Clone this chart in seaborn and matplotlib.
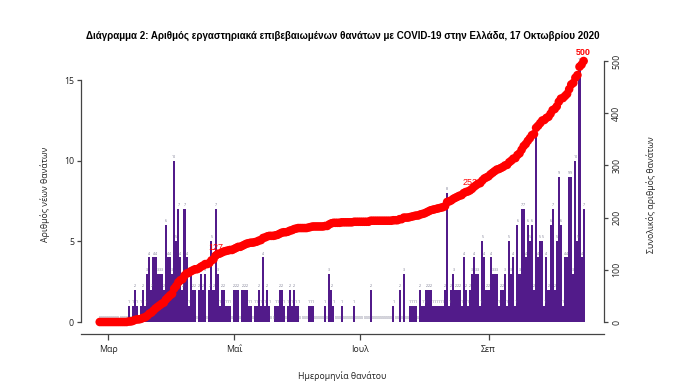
import numpy as np
import pandas as pd
import matplotlib
matplotlib.use("Agg")
import matplotlib.pyplot as plt
import matplotlib.dates as mdates
import seaborn as sns

# ---------------- data ----------------
start_date = "2020-02-26"
feb = [0, 0, 0, 0]
mar = [0, 0, 0, 0, 0, 0, 0, 0, 0, 0,
       1, 0, 1, 2, 1, 0, 1, 2, 1, 3, 4, 2, 4, 4, 3, 3, 3, 2, 6, 4, 4]
apr = [3, 10, 5, 7, 4, 2, 7, 4, 1, 3, 2, 2, 0, 2, 3, 2, 3, 0, 2, 5, 2, 7,
       3, 1, 2, 2, 1, 1, 1, 0]
may = [2, 2, 2, 0, 2, 2, 2, 1, 1, 0, 1, 1, 2, 1, 4, 1, 2, 1, 0, 0, 1, 1,
       2, 2, 1, 0, 1, 2, 1, 2, 1]
jun = [1, 0, 0, 0, 0, 1, 1, 1, 0, 0, 0, 0, 0, 1, 0, 3, 2, 1, 0, 0, 0, 1,
       0, 0, 0, 0, 0, 1, 0, 0]
jul = [0, 0, 0, 0, 0, 2, 0, 0, 0, 0, 0, 0, 0, 0, 0, 0, 1, 0, 0, 2, 0, 3,
       0, 0, 1, 1, 1, 1, 0, 2, 1]
aug = [1, 2, 2, 2, 1, 1, 1, 1, 1, 1, 2, 8, 1, 2, 3, 2, 2, 2, 1, 4, 2, 1,
       2, 3, 4, 3, 3, 1, 5, 4, 2]
sep = [2, 4, 3, 3, 3, 1, 2, 2, 3, 1, 5, 3,
       4, 1, 6, 3, 7, 7, 4, 6, 5, 6, 2, 12, 4, 5, 5, 1, 4, 2]
octo = [6, 7, 2, 5, 9, 6, 1, 4, 4, 9, 9, 3, 10, 5, 16, 4, 7]

tick_dates = ["2020-03-01", "2020-05-01", "2020-07-01", "2020-09-01"]
tick_labels = ["Μαρ", "Μαΐ", "Ιουλ", "Σεπ"]
annot_dates = ["2020-04-22", "2020-08-23", "2020-10-17"]

title = ("Διάγραμμα 2: Αριθμός εργαστηριακά επιβεβαιωμένων θανάτων με COVID-19 "
         "στην Ελλάδα, 17 Οκτωβρίου 2020")
xlabel = "Ημερομηνία θανάτου"
ylabel_left = "Αριθμός νέων θανάτων"
ylabel_right = "Συνολικός αριθμός θανάτων"

daily = feb + mar + apr + may + jun + jul + aug + sep + octo
dates = pd.date_range(start_date, periods=len(daily), freq="D")
cum = np.cumsum(daily)
df = pd.DataFrame({"x": mdates.date2num(dates), "deaths": daily, "cum": cum})

# ---------------- style ----------------
sns.set_theme(style="white")
plt.rcParams["font.family"] = ["Open Sans", "DejaVu Sans"]

W, H = 692, 389
fig = plt.figure(figsize=(W / 100, H / 100), dpi=100)
L, R, T, B = 81, 604, 55, 334
ax = fig.add_axes([L / W, 1 - B / H, (R - L) / W, (B - T) / H])

purple = "#521B8A"
sns.barplot(data=df, x="x", y="deaths", native_scale=True, color=purple,
            saturation=1, width=1.0, linewidth=0,
            errorbar=None, ax=ax)

# tiny value labels above every bar
for xv, v in zip(df["x"], df["deaths"]):
    ax.text(xv, v + 0.12, str(v), fontsize=2.5, ha="center", va="bottom",
            color="#707088")

mar1 = mdates.date2num(pd.Timestamp("2020-03-01"))
ppd = 2.068  # pixels per day
ax.set_xlim(mar1 - (108 - L) / ppd, mar1 + (R - 108) / ppd)
ppu_left = 16.13
ax.set_ylim(-(B - 322) / ppu_left, (322 - T) / ppu_left)

ax2 = ax.twinx()
ppu_right = 0.522
sns.scatterplot(data=df, x="x", y="cum", color="#FF0000", s=38,
                edgecolor="none", linewidth=0, ax=ax2, legend=False)
ax2.set_ylim(-(B - 322) / ppu_right, (322 - T) / ppu_right)
ax2.set_xlim(ax.get_xlim())

# annotations of cumulative totals
for d in annot_dates:
    i = list(dates).index(pd.Timestamp(d))
    bold = (i == len(daily) - 1)
    ax2.text(df["x"].iloc[i], cum[i] + 16, str(cum[i]), color="#FF0000",
             fontsize=6.5, ha="center", va="center",
             fontweight="bold" if bold else "normal",
             family=["Liberation Sans Narrow", "Liberation Sans", "DejaVu Sans"])

# ---------------- axes cosmetics ----------------
axc = "#444444"
txtc = "#222222"
for a in (ax, ax2):
    for s in a.spines.values():
        s.set_visible(False)
        s.set_color(axc)
        s.set_linewidth(0.9)
ax.spines["left"].set_visible(True)
ax.spines["left"].set_bounds(0, 15)
ax.spines["bottom"].set_visible(True)
ax2.spines["right"].set_visible(True)
ax2.spines["right"].set_bounds(0, 500)

ax.set_xticks(mdates.date2num(pd.to_datetime(tick_dates)))
ax.set_xticklabels(tick_labels)
ax.set_yticks([0, 5, 10, 15])
ax.set_yticklabels(["0", "5", "10", "15"])
ax2.set_yticks([0, 100, 200, 300, 400, 500])
ax2.set_yticklabels(["0", "100", "200", "300", "400", "500"], rotation=90,
                    va="center")
ax.tick_params(axis="x", length=4, width=0.9, color=axc, labelsize=6.3,
               labelcolor=txtc, pad=4, bottom=True, direction="out")
ax.tick_params(axis="y", length=3, width=0.9, color=axc, labelsize=6.3,
               labelcolor=txtc, pad=2, left=True, direction="out")
ax2.tick_params(axis="y", length=3, width=0.9, color=axc, labelsize=6.3,
                labelcolor=txtc, pad=3, right=True, direction="out")

ax.set_xlabel(xlabel, fontsize=6.3, color=txtc, labelpad=12)
ax.set_ylabel(ylabel_left, fontsize=6.3, color=txtc, labelpad=10)
ax2.set_ylabel(ylabel_right, fontsize=6.3, color=txtc, labelpad=18,
               rotation=90)

fig.text((L + R) / 2 / W, 1 - 36 / H, title, ha="center", va="center",
         fontsize=7.0, fontweight="bold", color="#000000",
         family=["Liberation Sans Narrow", "Liberation Sans", "DejaVu Sans"])

fig.savefig("out.png", dpi=100)
